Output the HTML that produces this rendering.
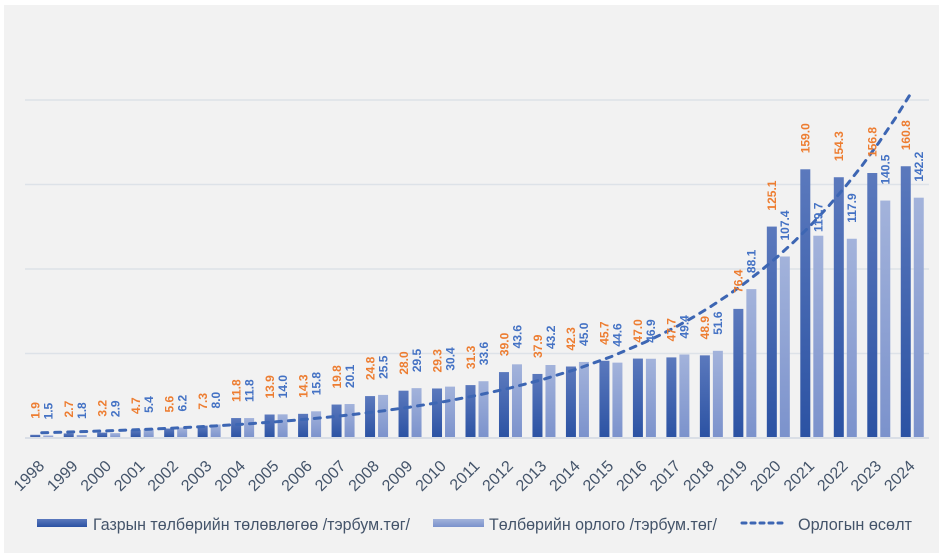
<!DOCTYPE html>
<html><head><meta charset="utf-8"><style>
html,body{margin:0;padding:0;background:#fff;}
svg{display:block;}
text{font-family:"Liberation Sans",Arial,sans-serif;}
.o{fill:#ED7D31;font-size:12px;font-weight:bold;}
.b{fill:#4472C4;font-size:12px;font-weight:bold;}
.x{fill:#44546A;font-size:16px;}
.l{fill:#44546A;font-size:17px;}
</style></head><body>
<svg width="945" height="559" viewBox="0 0 945 559" xmlns="http://www.w3.org/2000/svg">
<defs>
<linearGradient id="gd" x1="0" y1="0" x2="0" y2="1"><stop offset="0" stop-color="#5B79BD"/><stop offset="1" stop-color="#2B52A3"/></linearGradient>
<linearGradient id="gl" x1="0" y1="0" x2="0" y2="1"><stop offset="0" stop-color="#A3B3DB"/><stop offset="1" stop-color="#7B92CC"/></linearGradient>
</defs>
<rect x="0" y="0" width="945" height="559" fill="#fff"/>
<rect x="4" y="5" width="935" height="548" fill="#F2F2F2"/>
<g stroke="#DDE2E8" stroke-width="1.5">
<line x1="25" y1="100" x2="929" y2="100"/>
<line x1="25" y1="184.5" x2="929" y2="184.5"/>
<line x1="25" y1="269" x2="929" y2="269"/>
<line x1="25" y1="353.5" x2="929" y2="353.5"/>
</g>
<g fill="url(#gd)">
<rect x="30.24" y="434.79" width="10" height="3.21"/>
<rect x="63.72" y="433.44" width="10" height="4.56"/>
<rect x="97.20" y="432.59" width="10" height="5.41"/>
<rect x="130.68" y="430.06" width="10" height="7.94"/>
<rect x="164.17" y="428.54" width="10" height="9.46"/>
<rect x="197.65" y="425.66" width="10" height="12.34"/>
<rect x="231.13" y="418.06" width="10" height="19.94"/>
<rect x="264.61" y="414.51" width="10" height="23.49"/>
<rect x="298.09" y="413.83" width="10" height="24.17"/>
<rect x="331.57" y="404.54" width="10" height="33.46"/>
<rect x="365.06" y="396.09" width="10" height="41.91"/>
<rect x="398.54" y="390.68" width="10" height="47.32"/>
<rect x="432.02" y="388.48" width="10" height="49.52"/>
<rect x="465.50" y="385.10" width="10" height="52.90"/>
<rect x="498.98" y="372.09" width="10" height="65.91"/>
<rect x="532.46" y="373.95" width="10" height="64.05"/>
<rect x="565.94" y="366.51" width="10" height="71.49"/>
<rect x="599.43" y="360.77" width="10" height="77.23"/>
<rect x="632.91" y="358.57" width="10" height="79.43"/>
<rect x="666.39" y="357.39" width="10" height="80.61"/>
<rect x="699.87" y="355.36" width="10" height="82.64"/>
<rect x="733.35" y="308.88" width="10" height="129.12"/>
<rect x="766.83" y="226.58" width="10" height="211.42"/>
<rect x="800.31" y="169.29" width="10" height="268.71"/>
<rect x="833.80" y="177.23" width="10" height="260.77"/>
<rect x="867.28" y="173.01" width="10" height="264.99"/>
<rect x="900.76" y="166.25" width="10" height="271.75"/>
</g>
<g fill="url(#gl)">
<rect x="43.24" y="435.46" width="10" height="2.54"/>
<rect x="76.72" y="434.96" width="10" height="3.04"/>
<rect x="110.20" y="433.10" width="10" height="4.90"/>
<rect x="143.68" y="428.87" width="10" height="9.13"/>
<rect x="177.17" y="427.52" width="10" height="10.48"/>
<rect x="210.65" y="424.48" width="10" height="13.52"/>
<rect x="244.13" y="418.06" width="10" height="19.94"/>
<rect x="277.61" y="414.34" width="10" height="23.66"/>
<rect x="311.09" y="411.30" width="10" height="26.70"/>
<rect x="344.57" y="404.03" width="10" height="33.97"/>
<rect x="378.06" y="394.90" width="10" height="43.10"/>
<rect x="411.54" y="388.14" width="10" height="49.86"/>
<rect x="445.02" y="386.62" width="10" height="51.38"/>
<rect x="478.50" y="381.22" width="10" height="56.78"/>
<rect x="511.98" y="364.32" width="10" height="73.68"/>
<rect x="545.46" y="364.99" width="10" height="73.01"/>
<rect x="578.94" y="361.95" width="10" height="76.05"/>
<rect x="612.43" y="362.63" width="10" height="75.37"/>
<rect x="645.91" y="358.74" width="10" height="79.26"/>
<rect x="679.39" y="354.51" width="10" height="83.49"/>
<rect x="712.87" y="350.80" width="10" height="87.20"/>
<rect x="746.35" y="289.11" width="10" height="148.89"/>
<rect x="779.83" y="256.49" width="10" height="181.51"/>
<rect x="813.31" y="235.71" width="10" height="202.29"/>
<rect x="846.80" y="238.75" width="10" height="199.25"/>
<rect x="880.28" y="200.55" width="10" height="237.45"/>
<rect x="913.76" y="197.68" width="10" height="240.32"/>
</g>
<line x1="25" y1="438" x2="929" y2="438" stroke="#D9DEE6" stroke-width="2"/>
<polyline fill="none" stroke="#3D66B3" stroke-width="3" stroke-linecap="round" stroke-dasharray="6 7" points="41.74,432.76 75.22,431.84 108.70,430.77 142.18,429.50 175.67,428.01 209.15,426.27 242.63,424.21 276.11,421.80 309.59,418.97 343.07,415.63 376.56,411.72 410.04,407.12 443.52,401.72 477.00,395.37 510.48,387.91 543.96,379.14 577.44,368.84 610.93,356.74 644.41,342.51 661.15,334.49 677.89,325.80 694.63,316.38 711.37,306.17 728.11,295.10 744.85,283.10 761.59,270.09 778.33,255.99 795.07,240.71 811.81,224.13 828.56,206.17 845.30,186.71 862.04,165.61 878.78,142.72 895.52,117.93 912.26,91.06"/>
<g class="o">
<text transform="translate(39.54 418.79) rotate(-90)">1.9</text>
<text transform="translate(73.02 417.44) rotate(-90)">2.7</text>
<text transform="translate(106.50 416.59) rotate(-90)">3.2</text>
<text transform="translate(139.98 414.06) rotate(-90)">4.7</text>
<text transform="translate(173.47 412.54) rotate(-90)">5.6</text>
<text transform="translate(206.95 409.66) rotate(-90)">7.3</text>
<text transform="translate(240.43 402.06) rotate(-90)">11.8</text>
<text transform="translate(273.91 398.51) rotate(-90)">13.9</text>
<text transform="translate(307.39 397.83) rotate(-90)">14.3</text>
<text transform="translate(340.87 388.54) rotate(-90)">19.8</text>
<text transform="translate(374.36 380.09) rotate(-90)">24.8</text>
<text transform="translate(407.84 374.68) rotate(-90)">28.0</text>
<text transform="translate(441.32 372.48) rotate(-90)">29.3</text>
<text transform="translate(474.80 369.10) rotate(-90)">31.3</text>
<text transform="translate(508.28 356.09) rotate(-90)">39.0</text>
<text transform="translate(541.76 357.95) rotate(-90)">37.9</text>
<text transform="translate(575.24 350.51) rotate(-90)">42.3</text>
<text transform="translate(608.73 344.77) rotate(-90)">45.7</text>
<text transform="translate(642.21 342.57) rotate(-90)">47.0</text>
<text transform="translate(675.69 341.39) rotate(-90)">47.7</text>
<text transform="translate(709.17 339.36) rotate(-90)">48.9</text>
<text transform="translate(742.65 292.88) rotate(-90)">76.4</text>
<text transform="translate(776.13 210.58) rotate(-90)">125.1</text>
<text transform="translate(809.61 153.29) rotate(-90)">159.0</text>
<text transform="translate(843.10 161.23) rotate(-90)">154.3</text>
<text transform="translate(876.58 157.01) rotate(-90)">156.8</text>
<text transform="translate(910.06 150.25) rotate(-90)">160.8</text>
</g>
<g class="b">
<text transform="translate(52.54 419.46) rotate(-90)">1.5</text>
<text transform="translate(86.02 418.96) rotate(-90)">1.8</text>
<text transform="translate(119.50 417.10) rotate(-90)">2.9</text>
<text transform="translate(152.98 412.87) rotate(-90)">5.4</text>
<text transform="translate(186.47 411.52) rotate(-90)">6.2</text>
<text transform="translate(219.95 408.48) rotate(-90)">8.0</text>
<text transform="translate(253.43 402.06) rotate(-90)">11.8</text>
<text transform="translate(286.91 398.34) rotate(-90)">14.0</text>
<text transform="translate(320.39 395.30) rotate(-90)">15.8</text>
<text transform="translate(353.87 388.03) rotate(-90)">20.1</text>
<text transform="translate(387.36 378.90) rotate(-90)">25.5</text>
<text transform="translate(420.84 372.14) rotate(-90)">29.5</text>
<text transform="translate(454.32 370.62) rotate(-90)">30.4</text>
<text transform="translate(487.80 365.22) rotate(-90)">33.6</text>
<text transform="translate(521.28 348.32) rotate(-90)">43.6</text>
<text transform="translate(554.76 348.99) rotate(-90)">43.2</text>
<text transform="translate(588.24 345.95) rotate(-90)">45.0</text>
<text transform="translate(621.73 346.63) rotate(-90)">44.6</text>
<text transform="translate(655.21 342.74) rotate(-90)">46.9</text>
<text transform="translate(688.69 338.51) rotate(-90)">49.4</text>
<text transform="translate(722.17 334.80) rotate(-90)">51.6</text>
<text transform="translate(755.65 273.11) rotate(-90)">88.1</text>
<text transform="translate(789.13 240.49) rotate(-90)">107.4</text>
<text transform="translate(822.61 232.00) rotate(-90)">119.7</text>
<text transform="translate(856.10 222.75) rotate(-90)">117.9</text>
<text transform="translate(889.58 184.55) rotate(-90)">140.5</text>
<text transform="translate(923.06 181.68) rotate(-90)">142.2</text>
</g>
<g class="x" text-anchor="end">
<text transform="translate(45.24 467) rotate(-45)">1998</text>
<text transform="translate(78.72 467) rotate(-45)">1999</text>
<text transform="translate(112.20 467) rotate(-45)">2000</text>
<text transform="translate(145.68 467) rotate(-45)">2001</text>
<text transform="translate(179.17 467) rotate(-45)">2002</text>
<text transform="translate(212.65 467) rotate(-45)">2003</text>
<text transform="translate(246.13 467) rotate(-45)">2004</text>
<text transform="translate(279.61 467) rotate(-45)">2005</text>
<text transform="translate(313.09 467) rotate(-45)">2006</text>
<text transform="translate(346.57 467) rotate(-45)">2007</text>
<text transform="translate(380.06 467) rotate(-45)">2008</text>
<text transform="translate(413.54 467) rotate(-45)">2009</text>
<text transform="translate(447.02 467) rotate(-45)">2010</text>
<text transform="translate(480.50 467) rotate(-45)">2011</text>
<text transform="translate(513.98 467) rotate(-45)">2012</text>
<text transform="translate(547.46 467) rotate(-45)">2013</text>
<text transform="translate(580.94 467) rotate(-45)">2014</text>
<text transform="translate(614.43 467) rotate(-45)">2015</text>
<text transform="translate(647.91 467) rotate(-45)">2016</text>
<text transform="translate(681.39 467) rotate(-45)">2017</text>
<text transform="translate(714.87 467) rotate(-45)">2018</text>
<text transform="translate(748.35 467) rotate(-45)">2019</text>
<text transform="translate(781.83 467) rotate(-45)">2020</text>
<text transform="translate(815.31 467) rotate(-45)">2021</text>
<text transform="translate(848.80 467) rotate(-45)">2022</text>
<text transform="translate(882.28 467) rotate(-45)">2023</text>
<text transform="translate(915.76 467) rotate(-45)">2024</text>
</g>
<rect x="37" y="519" width="50" height="8" fill="url(#gd)"/>
<text class="l" x="93" y="530" textLength="317" lengthAdjust="spacingAndGlyphs">Газрын төлбөрийн төлөвлөгөө /тэрбум.төг/</text>
<rect x="433" y="519" width="51" height="8" fill="url(#gl)"/>
<text class="l" x="489" y="530" textLength="228" lengthAdjust="spacingAndGlyphs">Төлбөрийн орлого /тэрбум.төг/</text>
<line x1="742" y1="523" x2="783" y2="523" stroke="#3D66B3" stroke-width="3" stroke-linecap="round" stroke-dasharray="4 5"/>
<text class="l" x="798" y="530" textLength="114" lengthAdjust="spacingAndGlyphs">Орлогын өсөлт</text>
</svg>
</body></html>
